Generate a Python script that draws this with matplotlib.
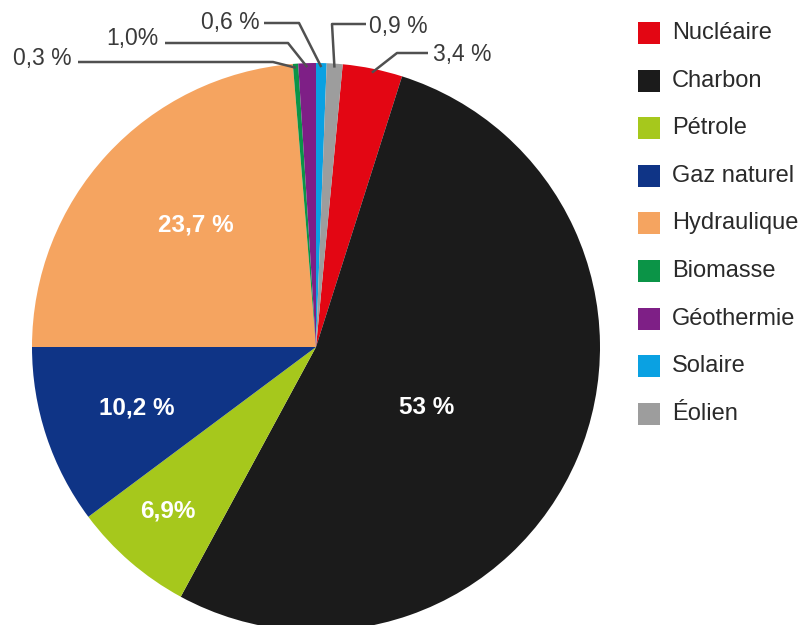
import numpy as np
import matplotlib
matplotlib.use("Agg")
import matplotlib.pyplot as plt
from matplotlib.patches import Rectangle

plt.rcParams['font.family'] = ['Liberation Sans', 'DejaVu Sans']

# ---- data ----
categories = ["Nucléaire", "Charbon", "Pétrole", "Gaz naturel", "Hydraulique",
              "Biomasse", "Géothermie", "Solaire", "Éolien"]
values = [3.4, 53.0, 6.9, 10.2, 23.7, 0.3, 1.0, 0.6, 0.9]
labels = ["3,4 %", "53 %", "6,9%", "10,2 %", "23,7 %", "0,3 %", "1,0%", "0,6 %", "0,9 %"]
colors = ["#e30613", "#1b1b1b", "#a6c81c", "#0f3486", "#f5a460",
          "#0b9447", "#7e1f86", "#0aa1e2", "#9d9d9d"]

W, H = 806, 625
fig = plt.figure(figsize=(W / 100, H / 100), dpi=100)
ax = fig.add_axes([0, 0, 1, 1])

cx, cy, R = 316, H - 347, 284
start = 180 + 360 * sum(values[:4]) / 100.0
wedges, _ = ax.pie(values, colors=colors, startangle=start, counterclock=False,
                   radius=R, center=(cx, cy), frame=True,
                   wedgeprops=dict(linewidth=0))
ax.set_xlim(0, W)
ax.set_ylim(0, H)
ax.set_aspect("equal")
ax.axis("off")

mids = [np.deg2rad((w.theta1 + w.theta2) / 2) for w in wedges]

# inner labels (big slices) - layout positions in image pixels
inner = {1: (427, 407), 2: (168, 511), 3: (137, 408), 4: (196, 225)}
for i, (tx, ty) in inner.items():
    ax.text(tx, H - ty, labels[i], color="white", fontsize=17.5, fontweight="bold",
            family=['Liberation Sans Narrow', 'Liberation Sans', 'DejaVu Sans'],
            ha="center", va="center")

# outer labels with leader lines (image coordinates for layout)
line_col = "#505050"
txt_col = "#3a3a3a"
outer = {
    5: (72, 58, "right", [(78, 62), (273, 62)]),
    6: (159, 38.5, "right", [(165, 43), (288, 43)]),
    7: (260, 22, "right", [(264, 23), (299, 23)]),
    8: (369, 27, "left", [(366, 24), (332, 24)]),
    0: (433, 55, "left", [(428, 53), (397, 53)]),
}
for i, (tx, ty, ha, pts) in outer.items():
    a = mids[i]
    ex = cx + (R - 4) * np.cos(a)
    ey = cy + (R - 4) * np.sin(a)
    xs = [p[0] for p in pts] + [ex]
    ys = [H - p[1] for p in pts] + [ey]
    ax.plot(xs, ys, color=line_col, lw=1.8, solid_capstyle="butt")
    ax.text(tx, H - ty, labels[i], color=txt_col, fontsize=16.5,
            ha=ha, va="center")

# legend
for k, (name, col) in enumerate(zip(categories, colors)):
    yc = H - (33 + k * 47.6)
    ax.add_patch(Rectangle((638, yc - 11), 22, 22, facecolor=col, edgecolor="none"))
    ax.text(672, yc, name, color="#2a2a2a", fontsize=17, ha="left", va="center")

fig.savefig("out.png", dpi=100, facecolor="white")
